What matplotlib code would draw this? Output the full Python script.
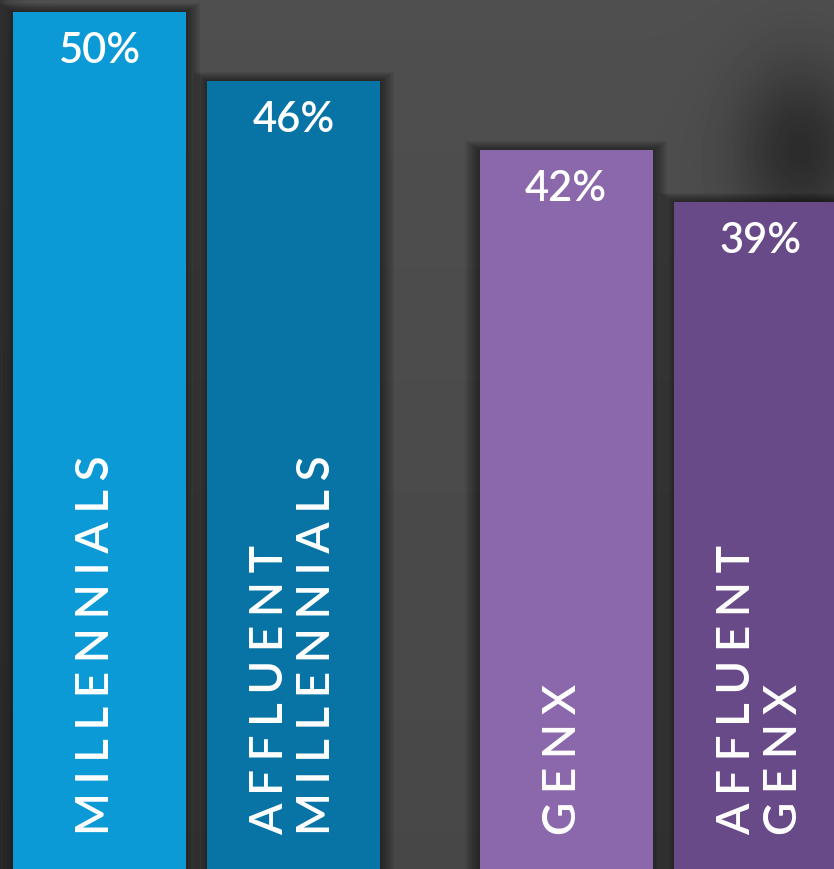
import matplotlib.pyplot as plt
import numpy as np

# データ
groups = ["MILLENNIALS", "AFFLUENT\nMILLENNIALS", "GENX", "AFFLUENT\nGENX"]
values = [50, 46, 42, 39]
value_labels = ["50%", "46%", "42%", "39%"]
bar_colors = ["#0b9ad6", "#0874a6", "#8b68ab", "#694a89"]

# レイアウト (2本ずつのペア)
xpos = [0.0, 1.0, 2.405, 3.407]
BAR_W = 0.892
XLIM = (-0.513, 3.786)
YLIM = (0.32, 50.75)

W_PX, H_PX = 834, 870
PX_X = (XLIM[1] - XLIM[0]) / W_PX
PX_Y = (YLIM[1] - YLIM[0]) / H_PX

FONT = ["Lato", "DejaVu Sans"]


def spaced(s, sep="\u2009\u200a"):
    # 字間を広げる
    return "\n".join(sep.join(line) for line in s.split("\n"))


fig = plt.figure(figsize=(W_PX / 100, H_PX / 100), dpi=100)
ax = fig.add_axes([0, 0, 1, 1])

# 背景 (暗いグレーのグラデーション)
yy, xx = np.mgrid[0:H_PX, 0:W_PX]
bg = 0.31 - 0.03 * (yy / H_PX)
bg -= 0.13 * np.exp(-((xx - 800) ** 2 / (2 * 45 ** 2) + (yy - 150) ** 2 / (2 * 60 ** 2)))
bg -= 0.10 * np.exp(-xx / 12.0)
bg = np.clip(bg, 0, 1)
ax.imshow(bg, cmap="gray", vmin=0, vmax=1, extent=(*XLIM, YLIM[0], YLIM[1]),
          origin="upper", aspect="auto", zorder=0)

# ぼかした影
for x, v in zip(xpos, values):
    for k in range(1, 10):
        dx = k * 1.6 * PX_X
        dy = k * 1.0 * PX_Y
        ax.bar(x, v + dy, width=BAR_W + 2 * dx, color="black", alpha=0.06,
               linewidth=0, zorder=1)

ax.bar(xpos, values, width=BAR_W, color=bar_colors, linewidth=0, zorder=2)

for x, v, lab, g in zip(xpos, values, value_labels, groups):
    ax.text(x, v - 50 * PX_Y, lab, ha="center", va="baseline", color="white",
            fontsize=30, family=FONT, fontweight="semibold", zorder=3)
    shift = -3.5 * PX_X if "\n" not in g else 0
    ax.text(x + shift, YLIM[0] + 35 * PX_Y, spaced(g), rotation=90, ha="center",
            va="bottom", multialignment="left", color="white", fontsize=33,
            family=FONT, fontweight="semibold", linespacing=1.12, zorder=3)

ax.set_xlim(*XLIM)
ax.set_ylim(*YLIM)
ax.axis("off")

fig.savefig("out.png", dpi=100)
